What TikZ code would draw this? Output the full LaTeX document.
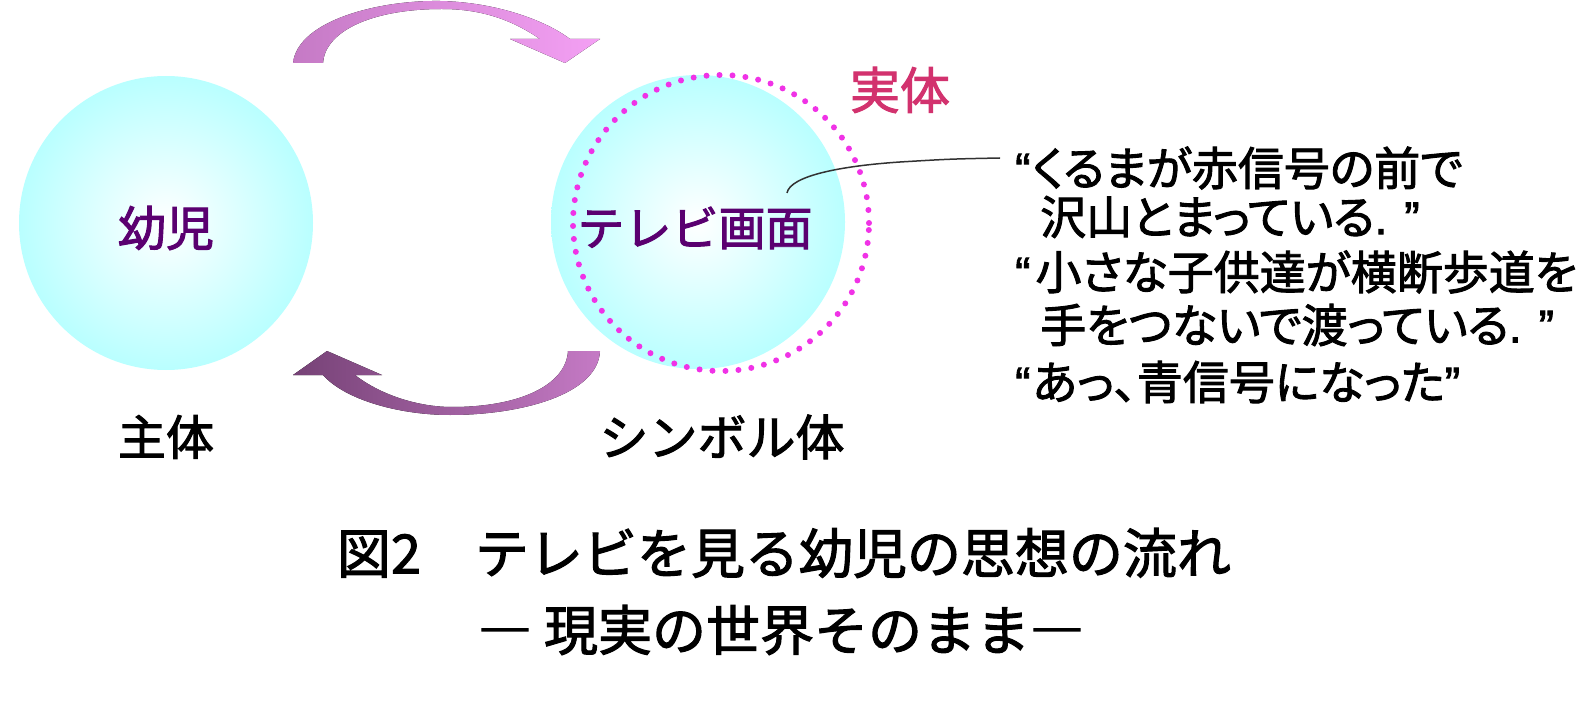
\documentclass[tikz,border=0pt]{standalone}
\usepackage{fontspec}
\setmainfont{Noto Sans CJK JP}[FakeBold=2]
\newfontfamily\pfont{Noto Sans CJK JP}[FakeBold=2,RawFeature=+palt]
\newfontfamily\qfont{Liberation Sans}[FakeBold=2]
\definecolor{cyanedge}{RGB}{185,255,255}
\definecolor{dotmag}{RGB}{240,50,230}
\definecolor{lblpurple}{RGB}{90,0,112}
\definecolor{jtred}{RGB}{210,50,110}
\definecolor{arrA}{RGB}{197,122,197}
\definecolor{arrDark}{RGB}{118,66,118}
\definecolor{arrPink}{RGB}{244,160,244}
\definecolor{linegray}{RGB}{50,50,50}
\newcommand{\fsz}[1]{\fontsize{#1pt}{#1pt}\selectfont}
\newcommand{\oq}{{\qfont “}\hspace{2pt}}
\newcommand{\cq}{{\qfont .\hspace{17pt}”}}
\begin{document}
\begin{tikzpicture}[x=1pt,y=-1pt,
  ball/.style={circle, minimum size=294pt, inner sep=0pt, inner color=white, outer color=cyanedge},
  ring/.style={circle, minimum size=296pt, inner sep=0pt, draw=dotmag, line width=6pt, dash pattern=on 0pt off 13pt, line cap=round},
  lbl/.style={inner sep=0pt, text=lblpurple, font=\fsz{48}},
  sub/.style={inner sep=0pt, text=black, font=\fsz{48}},
  said/.style={inner sep=0pt, anchor=west, text=black, font=\pfont\fsz{46}},
  captext/.style={inner sep=0pt, text=black, font=\fsz{54}},
  bigarrow/.style={draw=none}]
\useasboundingbox (0,0) rectangle (1582,703);

% circles
\node[ball] (c1) at (166,223) {};
\node[ball] (c2) at (698,222) {};
\node[ring] (r2) at (721,223) {};

% curved block arrows
\fill[bigarrow, left color=arrA, middle color=arrDark, right color=arrPink]
  (293,63) .. controls (298,20) and (380,0) .. (440,1)
  .. controls (495,2) and (545,20) .. (570,39)
  -- (600,39) -- (565,63) -- (510,39) -- (540,39)
  .. controls (515,22) and (485,9) .. (442,9)
  .. controls (370,9) and (325,32) .. (323,63) -- cycle;
\fill[bigarrow, left color=arrDark, middle color=arrPink, right color=arrA]
  (600,351) .. controls (598,395) and (520,415) .. (450,415)
  .. controls (400,415) and (345,400) .. (323,375)
  -- (293,375) -- (327,351) -- (382,375) -- (355,375)
  .. controls (382,396) and (420,407) .. (452,407)
  .. controls (520,407) and (566,385) .. (568,351) -- cycle;

% labels in circles
\node[lbl] (n1) at (166,228) {幼児};
\node[lbl, font=\fsz{47}] (n2) at (695,228) {テレビ画面};
\node[lbl, text=jtred, font=\fsz{50}] (n3) at (900,90) {実体};

% labels below
\node[sub] (s1) at (166,437) {主体};
\node[sub, font=\fsz{49}] (s2) at (722,437) {シンボル体};

% speech lines
\node[said] (t1) at (1015,168) {\oq くるまが赤信号の前で};
\node[said] (t2) at (1040,217) {沢山とまっている\cq};
\node[said] (t3) at (1015,272) {\oq\hspace{3pt}小さな子供達が横断歩道を};
\node[said] (t4) at (1040,325) {手をつないで渡っている\cq};
\node[said] (t5) at (1015,382) {\oq あっ、青信号になった{\qfont ”}};

% connector
\coordinate (lstart) at (787,193);
\coordinate (lend) at ([xshift=-15pt,yshift=10pt]t1.west);
\draw[linegray, line width=1.5pt] (lstart) .. controls (790,176) and (840,166) .. (900,162)
  .. controls (950,159) .. (lend);

% caption
\node[captext] (cap1) at (784,553) {図2　テレビを見る幼児の思想の流れ};
\node[captext] (cap2) at (781,630) {― 現実の世界そのまま―};
\end{tikzpicture}
\end{document}
